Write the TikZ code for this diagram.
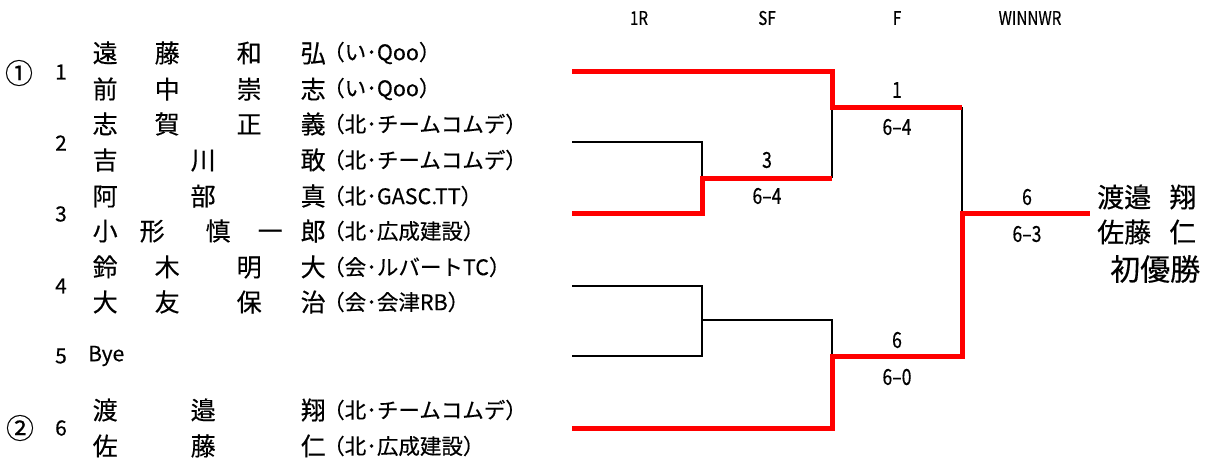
\documentclass[tikz,border=0pt]{standalone}
\usepackage{fontspec}
\setmainfont[FakeBold=0.35]{Noto Sans CJK JP}
\newfontfamily\narrowfont[FakeStretch=0.8,FakeBold=0.35]{Noto Sans CJK JP}
\newcommand\JfourName[4]{\rlap{#1}\hspace*{62pt}\rlap{#2}\hspace*{82pt}\rlap{#3}\hspace*{64pt}#4}
\newcommand\JthreeName[3]{\rlap{#1}\hspace*{98pt}\rlap{#2}\hspace*{110pt}#3}
\newcommand\JfiveName[5]{\rlap{#1}\hspace*{47pt}\rlap{#2}\hspace*{66pt}\rlap{#3}\hspace*{52pt}\rlap{#4}\hspace*{43pt}#5}
\begin{document}
\begin{tikzpicture}[x=1pt,y=-1pt,
  win/.style={draw=red, line width=5pt},
  lose/.style={draw=black, line width=2.8pt},
  namecell/.style={anchor=west, inner sep=0pt, font=\fontsize{25}{25}\selectfont},
  affcell/.style={anchor=west, inner sep=0pt, font=\fontsize{21.5}{21.5}\selectfont},
  numcell/.style={inner sep=0pt, font=\fontsize{21}{21}\selectfont},
  seedcell/.style={inner sep=0pt, font=\fontsize{28}{28}\selectfont},
  headcell/.style={inner sep=0pt, font=\narrowfont\fontsize{19}{19}\selectfont},
  scorecell/.style={inner sep=0pt, font=\narrowfont\fontsize{22}{22}\selectfont},
  champ/.style={anchor=west, inner sep=0pt, font=\fontsize{27}{27}\selectfont}]
\useasboundingbox[fill=white] (0,0) rectangle (1211,463);

% headers
\node[headcell] (h1) at (639,18) {1R};
\node[headcell] (h2) at (767,18) {SF};
\node[headcell] (h3) at (897,18) {F};
\node[headcell] (h4) at (1030,18) {WINNWR};

% seeds and draw numbers
\node[seedcell] (seed1) at (19,73) {①};
\node[seedcell] (seed2) at (20,428) {②};
\node[numcell] (d1) at (61,72) {1};
\node[numcell] (d2) at (61,143) {2};
\node[numcell] (d3) at (61,214) {3};
\node[numcell] (d4) at (61,286) {4};
\node[numcell] (d5) at (61,356) {5};
\node[numcell] (d6) at (61,428) {6};

% names
\node[namecell] (n1) at (92.5,53) {\JfourName{遠}{藤}{和}{弘}};
\node[namecell] (n2) at (92.5,89) {\JfourName{前}{中}{崇}{志}};
\node[namecell] (n3) at (92.5,124) {\JfourName{志}{賀}{正}{義}};
\node[namecell] (n4) at (92.5,160) {\JthreeName{吉}{川}{敢}};
\node[namecell] (n5) at (92.5,196) {\JthreeName{阿}{部}{真}};
\node[namecell] (n6) at (92.5,231) {\JfiveName{小}{形}{慎}{一}{郎}};
\node[namecell] (n7) at (92.5,267) {\JfourName{鈴}{木}{明}{大}};
\node[namecell] (n8) at (92.5,302) {\JfourName{大}{友}{保}{治}};
\node[anchor=west, inner sep=0pt, font=\fontsize{21}{21}\selectfont] (bye) at (88,356) {Bye};
\node[namecell] (n9) at (92.5,410) {\JthreeName{渡}{邉}{翔}};
\node[namecell] (n10) at (92.5,446) {\JthreeName{佐}{藤}{仁}};

% affiliations
\node[affcell] (a1) at (323,53) {（い･Qoo）};
\node[affcell] (a2) at (323,89) {（い･Qoo）};
\node[affcell] (a3) at (323,124) {（北･チームコムデ）};
\node[affcell] (a4) at (323,160) {（北･チームコムデ）};
\node[affcell] (a5) at (323,196) {（北･GASC.TT）};
\node[affcell] (a6) at (323,231) {（北･広成建設）};
\node[affcell] (a7) at (323,267) {（会･ルバートTC）};
\node[affcell] (a8) at (323,302) {（会･会津RB）};
\node[affcell] (a9) at (323,410) {（北･チームコムデ）};
\node[affcell] (a10) at (323,446) {（北･広成建設）};

% bracket points
\coordinate (e1) at (572,71);
\coordinate (e2) at (572,142);
\coordinate (e3) at (572,213);
\coordinate (e4) at (572,286);
\coordinate (e5) at (572,356);
\coordinate (e6) at (572,428);
\coordinate (r23) at (702,178);
\coordinate (r45) at (702,320);
\coordinate (s1) at (832,107);
\coordinate (s2) at (832,356);
\coordinate (fin) at (962,213);
\coordinate (wend) at (1090,213);

% losing paths
\draw[lose] (e2) -| (r23);
\draw[lose] (e4) -| (r45);
\draw[lose] (e5) -| (r45);
\draw[lose] (r45) -| (s2);
\draw[lose] (r23 -| s1) -- (s1);
\draw[lose] (s1 -| fin) -- (fin);

% winning paths
\draw[win] (e1) -| (s1) -- (s1 -| fin);
\draw[win] (e3) -| (r23) -- (r23 -| s1);
\draw[win] (e6) -| (s2) -- (s2 -| fin) -- (fin) -- (wend);

% scores
\node[scorecell] (w1) at (897,90) {1};
\node[scorecell] (sc1) at (897,127) {6–4};
\node[scorecell] (w2) at (767,160) {3};
\node[scorecell] (sc2) at (767,196) {6–4};
\node[scorecell] (w3) at (897,340) {6};
\node[scorecell] (sc3) at (897,377) {6–0};
\node[scorecell] (w4) at (1027,197) {6};
\node[scorecell] (sc4) at (1027,234) {6–3};

% champion
\node[champ] (c1) at (1097,197) {渡邉\hspace{18pt}翔};
\node[champ] (c2) at (1097,232) {佐藤\hspace{18pt}仁};
\node[anchor=west, inner sep=0pt, font=\fontsize{30}{30}\selectfont] (c3) at (1110,269) {初優勝};
\end{tikzpicture}
\end{document}
